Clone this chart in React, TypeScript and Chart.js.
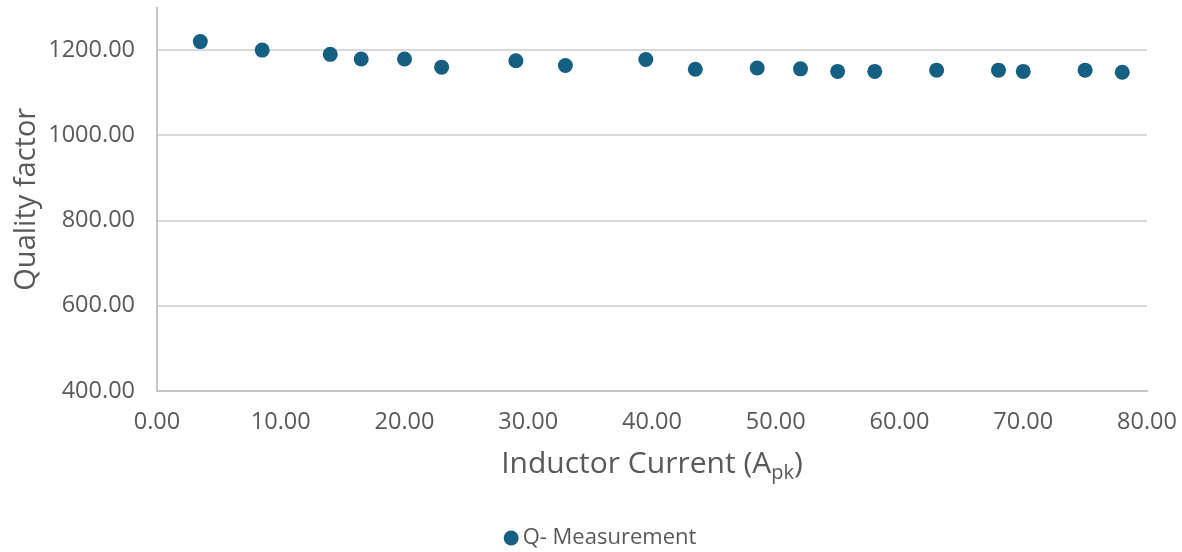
import React, { useEffect, useRef } from "react";
import { Chart, registerables } from "chart.js";

Chart.register(...registerables);

const currentApk = [3.5, 8.5, 14.0, 16.5, 20.0, 23.0, 29.0, 33.0, 39.5, 43.5, 48.5, 52.0, 55.0, 58.0, 63.0, 68.0, 70.0, 75.0, 78.0];
const qualityFactor = [1220, 1200, 1190, 1179, 1179, 1160, 1175, 1164, 1178, 1155, 1158, 1156, 1150, 1150, 1153, 1153, 1150, 1153, 1148];
const seriesLabel = "Q- Measurement";
const yTitle = "Quality factor";
const xTitleMain = "Inductor Current (A";
const xTitleSub = "pk";
const xTitleEnd = ")";

const FONT = "'Open Sans', 'DejaVu Sans', sans-serif";
const TEXT = "#595959";
const DOT = "#156082";

const xTitlePlugin = {
  id: "xTitleSub",
  afterLayout(chart: any) {
    if (chart.legend) {
      chart.legend.left += 30;
      chart.legend.right += 30;
    }
  },
  afterDraw(chart: any) {
    const { ctx, chartArea } = chart;
    const cx = (chartArea.left + chartArea.right) / 2;
    const baseY = chartArea.bottom + 82;
    ctx.save();
    ctx.fillStyle = TEXT;
    ctx.textBaseline = "alphabetic";
    ctx.textAlign = "left";
    const mainFont = `30px ${FONT}`;
    const subFont = `20px ${FONT}`;
    ctx.font = mainFont;
    const w1 = ctx.measureText(xTitleMain).width;
    const w3 = ctx.measureText(xTitleEnd).width;
    ctx.font = subFont;
    const w2 = ctx.measureText(xTitleSub).width;
    let x = cx - (w1 + w2 + w3) / 2;
    ctx.font = mainFont;
    ctx.fillText(xTitleMain, x, baseY);
    x += w1;
    ctx.font = subFont;
    ctx.fillText(xTitleSub, x, baseY + 6);
    x += w2;
    ctx.font = mainFont;
    ctx.fillText(xTitleEnd, x, baseY);
    ctx.restore();
  },
};

export default function App() {
  const ref = useRef<HTMLCanvasElement | null>(null);

  useEffect(() => {
    document.body.style.margin = "0";
    document.body.style.overflow = "hidden";
    if (!ref.current) return;
    const data = currentApk.map((x, i) => ({ x, y: qualityFactor[i] }));
    const chart = new Chart(ref.current, {
      type: "scatter",
      data: {
        datasets: [
          {
            label: seriesLabel,
            data,
            backgroundColor: DOT,
            borderColor: DOT,
            borderWidth: 0,
            pointRadius: 7.5,
            pointHoverRadius: 7.5,
          },
        ],
      },
      plugins: [xTitlePlugin],
      options: {
        animation: false,
        responsive: false,
        devicePixelRatio: 1,
        events: [],
        layout: { padding: { left: 0, right: 35, top: 5, bottom: -7 } },
        plugins: {
          tooltip: { enabled: false },
          legend: {
            position: "bottom",
            labels: {
              usePointStyle: true,
              pointStyle: "circle",
              boxWidth: 1,
              boxHeight: 10.6,
              color: TEXT,
              font: { family: FONT, size: 22 },
              padding: 10,
            },
          },
        },
        scales: {
          x: {
            type: "linear",
            min: 0,
            max: 80,
            ticks: {
              stepSize: 10,
              color: TEXT,
              font: { family: FONT, size: 23.5 },
              padding: 17,
              maxRotation: 0,
              callback: (v: any) => Number(v).toFixed(2),
            },
            grid: { display: false, drawTicks: false },
            border: { display: true, color: "#C6C6C6", width: 2 },
            afterFit: (scale: any) => {
              scale.height = 126;
              scale.paddingLeft = 0;
              scale.paddingRight = 0;
            },
          },
          y: {
            type: "linear",
            min: 400,
            max: 1300,
            ticks: {
              stepSize: 200,
              color: TEXT,
              font: { family: FONT, size: 23.5 },
              padding: 22,
              callback: (v: any) => Number(v).toFixed(2),
            },
            afterBuildTicks: (scale: any) => {
              scale.ticks = scale.ticks.filter((t: any) => t.value <= 1200);
            },
            grid: { color: "#D9D9D9", lineWidth: 2, drawTicks: false },
            border: { display: true, color: "#C6C6C6", width: 2 },
            title: {
              display: true,
              text: yTitle,
              color: TEXT,
              font: { family: FONT, size: 29 },
              padding: { top: 9.5, bottom: 0 },
            },
            afterFit: (scale: any) => {
              scale.width = 157;
              scale.paddingTop = 0;
              scale.paddingBottom = 0;
            },
          },
        },
      },
    });
    return () => chart.destroy();
  }, []);

  return (
    <div style={{ width: 1182, height: 552 }}>
      <canvas ref={ref} width={1182} height={552} />
    </div>
  );
}
